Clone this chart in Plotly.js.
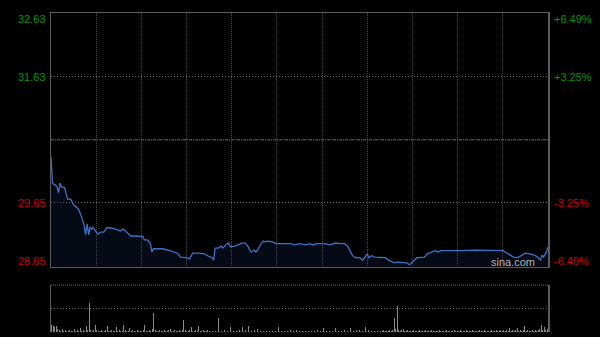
<!DOCTYPE html>
<html>
<head>
<meta charset="utf-8">
<script src="https://cdn.plot.ly/plotly-3.0.1.min.js"></script>
<style>html,body{margin:0;padding:0;background:#000;}#chart{width:600px;height:337px;}</style>
</head>
<body>
<div id="chart"></div>
<script>
// ---- data (minutes since 09:30, HK session 330 minutes) ----
const priceMinutes = [0,1,2,3,4,5,6,7,9,11,13,15,18,19,21,22,23,24,25,26,27,28,29,31,33,35,37,39,43,46,48,50,53,56,59,61,62,64,65,66,67,68,71,74,79,84,86,89,90,92,93,94,98,102,104,107,108,109,111,113,114,116,118,119,122,124,127,129,131,132,133,135,136,137,138,139,141,142,144,147,149,152,159,162,165,169,172,174,176,179,182,185,187,189,192,195,197,199,200,202,205,207,209,210,211,213,215,219,222,225,228,230,233,236,238,240,243,245,248,250,253,255,257,259,262,265,270,272,282,298,300,303,305,307,310,312,315,318,321,323,325,326,327,329,330];
const prices = [30.37,29.96,29.94,29.93,29.90,29.81,29.96,29.90,29.89,29.71,29.71,29.62,29.56,29.51,29.38,29.30,29.15,29.32,29.15,29.27,29.24,29.26,29.23,29.16,29.19,29.19,29.26,29.26,29.24,29.21,29.24,29.19,29.13,29.13,29.12,29.12,29.07,29.07,29.04,29.01,28.88,28.93,28.93,28.93,28.90,28.86,28.80,28.80,28.79,28.77,28.83,28.86,28.86,28.85,28.82,28.79,28.75,28.94,28.94,28.97,28.94,28.99,29.02,28.96,28.97,28.99,29.02,29.02,28.96,28.91,28.88,28.91,28.88,28.90,28.96,28.99,29.05,29.04,29.05,29.04,29.01,29.01,29.01,28.99,29.01,28.99,29.01,28.99,29.01,29.01,29.01,28.99,29.01,29.02,29.01,29.01,28.97,28.86,28.83,28.79,28.79,28.75,28.83,28.85,28.79,28.82,28.80,28.80,28.79,28.74,28.71,28.72,28.72,28.71,28.68,28.72,28.79,28.79,28.80,28.85,28.88,28.90,28.88,28.90,28.90,28.90,28.89,28.90,28.91,28.91,28.90,28.86,28.83,28.80,28.79,28.82,28.86,28.85,28.83,28.80,28.75,28.83,28.80,28.88,28.96];
const volumes = [
 7,6,5,6,3,2,1,3,1,2,1,1,2,1,1,3,1,2,1,4,1,2,1,6,2,29,2,1,2,7,
 2,1,1,2,1,1,2,6,1,1,2,1,1,5,1,2,1,1,7,2,1,1,4,1,2,1,1,2,1,1,
 1,2,7,1,1,2,1,3,19,2,1,1,2,1,1,2,1,1,2,3,1,1,2,1,1,2,1,2,12,2,
 1,1,2,5,1,1,2,1,6,1,1,2,1,1,2,1,3,1,2,1,2,14,2,1,1,2,4,1,2,5,
 1,1,2,1,1,2,1,5,1,2,1,6,2,1,1,2,1,3,1,1,2,1,1,1,2,1,1,1,2,1,
 1,5,1,1,2,1,1,1,1,2,1,1,1,2,1,1,1,1,2,1,1,1,2,1,1,1,1,2,1,1,
 1,4,1,1,2,1,1,1,2,4,1,1,2,1,1,2,1,1,2,4,2,1,5,2,6,2,5,1,2,5,
 1,2,1,1,5,1,2,1,2,1,1,2,1,1,1,2,1,2,14,3,26,2,1,2,3,1,1,2,1,1,
 1,2,1,1,1,2,1,1,1,2,1,1,1,2,1,1,1,1,2,1,1,1,1,2,1,1,1,1,2,1,
 1,1,2,1,1,1,2,1,1,1,2,1,1,1,1,2,1,1,2,1,1,1,1,2,1,1,2,1,1,2,
 1,2,1,2,1,4,1,2,1,2,4,1,2,1,2,6,1,2,1,1,2,1,2,1,2,3,7,2,5,2,3];
const volumeMinutes = volumes.map((v, i) => i);
const prevClose = 30.64;
const priceTicks = [32.63, 31.63, 29.65, 28.65];
const pctTicks = ['+6.49%', '+3.25%', '-3.25%', '-6.49%'];
const timeGrid = [30,60,90,120,150,180,210,240,270,300];
const sessionMinutes = 330;

// ---- styles ----
const green = '#0a940a', red = '#cc0000';
const borderCol = '#5c5c5c';
const fontFam = 'Liberation Sans, Arial, sans-serif';

const traces = [
  {x: priceMinutes, y: prices, type: 'scatter', mode: 'lines',
   line: {color: '#3e72c8', width: 1.3, shape: 'linear'},
   fill: 'tozeroy', fillcolor: 'rgba(30,55,110,0.18)',
   xaxis: 'x', yaxis: 'y', hoverinfo: 'skip'},
  {x: volumeMinutes, y: volumes, type: 'bar',
   marker: {color: '#8a8a8a', line: {width: 0}}, width: 0.55,
   xaxis: 'x2', yaxis: 'y2', hoverinfo: 'skip'}
];

const annotations = [];
priceTicks.forEach((p, i) => {
  const shift = i === 0 ? -6 : (i === priceTicks.length - 1 ? 6 : 0);
  const col = p > prevClose ? green : red;
  annotations.push({xref: 'paper', x: 0, xanchor: 'right', xshift: -3,
    yref: 'y', y: p, yanchor: 'middle', yshift: shift, text: p.toFixed(2),
    showarrow: false, font: {family: fontFam, size: 11, color: col}});
  annotations.push({xref: 'paper', x: 1, xanchor: 'left', xshift: 4,
    yref: 'y', y: p, yanchor: 'middle', yshift: shift, text: pctTicks[i],
    showarrow: false, font: {family: fontFam, size: 11, color: col}});
});
annotations.push({xref: 'paper', x: 0.977, xanchor: 'right', yref: 'y', y: priceTicks[3],
  yanchor: 'middle', yshift: 5, text: 'sina.com', showarrow: false,
  font: {family: fontFam, size: 11, color: 'rgba(215,215,215,0.85)'}});

const layout = {
  width: 600, height: 337,
  margin: {l: 51, r: 52, t: 13, b: 5},
  paper_bgcolor: '#000', plot_bgcolor: '#000',
  showlegend: false,
  xaxis: {domain: [0, 1], range: [0, sessionMinutes], anchor: 'y',
    tickvals: timeGrid, showticklabels: false, ticks: '',
    showgrid: true, gridcolor: '#4a4a4a', griddash: '1px,1px', gridwidth: 1,
    showline: true, mirror: true, linecolor: borderCol, linewidth: 1.5, zeroline: false, fixedrange: true},
  yaxis: {domain: [0.205, 1], range: [priceTicks[3], priceTicks[0]], anchor: 'x',
    tickvals: [priceTicks[1], priceTicks[2]], showticklabels: false, ticks: '',
    showgrid: true, gridcolor: '#6a6a6a', griddash: '1px,2px', gridwidth: 1,
    showline: true, mirror: true, linecolor: borderCol, linewidth: 1.5, zeroline: false, fixedrange: true},
  xaxis2: {domain: [0, 1], range: [-0.5, sessionMinutes + 0.5], anchor: 'y2',
    showticklabels: false, ticks: '', showgrid: false, showline: false, zeroline: false, fixedrange: true},
  yaxis2: {domain: [0, 0.147], range: [0, 47], anchor: 'x2',
    tickvals: [23.5], showticklabels: false, ticks: '',
    showgrid: true, gridcolor: '#666', griddash: '1px,2px', gridwidth: 1,
    showline: true, mirror: true, linecolor: borderCol, linewidth: 1.5, zeroline: false, fixedrange: true},
  shapes: [
    {type: 'line', xref: 'x domain', x0: 0, x1: 1, yref: 'y', y0: prevClose, y1: prevClose,
     line: {color: '#6e6e6e', width: 1, dash: '3px,1px,1px,1px'}},
    {type: 'line', xref: 'x2 domain', x0: 0, x1: 1, yref: 'y2 domain', y0: 1, y1: 1,
     line: {color: '#6a6a6a', width: 1, dash: '1px,1px'}},
    {type: 'line', xref: 'x2 domain', x0: 0, x1: 1, yref: 'y2 domain', y0: 0, y1: 0,
     line: {color: '#444', width: 1, dash: '1px,2px'}}
  ],
  annotations: annotations,
  bargap: 0
};

Plotly.newPlot('chart', traces, layout, {displayModeBar: false, staticPlot: true});
</script>
</body>
</html>
